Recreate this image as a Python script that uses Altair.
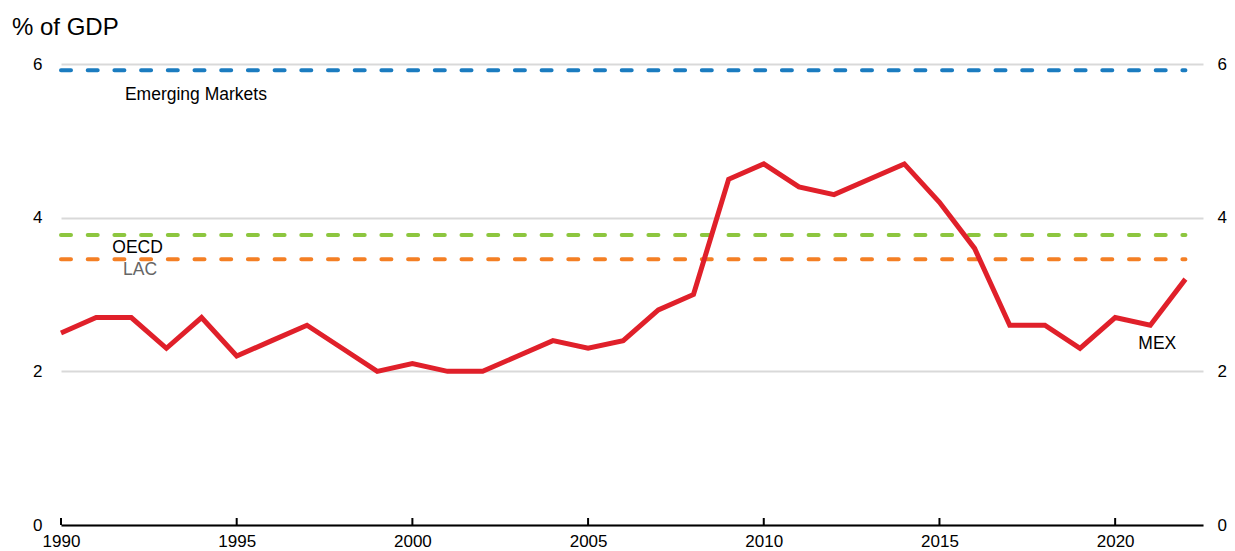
import altair as alt
import pandas as pd

years = list(range(1990, 2023))
mex = [2.5, 2.7, 2.7, 2.3, 2.7, 2.2, 2.4, 2.6, 2.3, 2.0, 2.1, 2.0, 2.0, 2.2, 2.4, 2.3,
       2.4, 2.8, 3.0, 4.5, 4.7, 4.4, 4.3, 4.5, 4.7, 4.2, 3.6, 2.6, 2.6, 2.3, 2.7, 2.6, 3.2]

ref_names = ["Emerging Markets", "OECD", "LAC"]
ref_values = [5.92, 3.775, 3.46]
ref_colors = ["#1b7cc0", "#8dc63f", "#f47f24"]

label_text = ["Emerging Markets", "OECD", "LAC", "MEX"]
label_x = [1993.84, 1992.18, 1992.25, 2021.2]
label_y = [5.595, 3.6, 3.32, 2.35]
label_color = ["#000000", "#000000", "#666666", "#000000"]

tick_years = [1990, 1995, 2000, 2005, 2010, 2015, 2020]

FONT = "Liberation Sans"

xscale = alt.Scale(domain=[1990, 2022.5], nice=False, zero=False)
yscale = alt.Scale(domain=[0, 6], nice=False)

mex_df = pd.DataFrame({"year": years, "value": mex})
ref_rows = []
for n, v, c in zip(ref_names, ref_values, ref_colors):
    ref_rows.append({"name": n, "year": 1990, "value": v, "color": c})
    ref_rows.append({"name": n, "year": 2022, "value": v, "color": c})
ref_df = pd.DataFrame(ref_rows)
lab_df = pd.DataFrame({"text": label_text, "year": label_x, "value": label_y, "color": label_color})
tick_df = pd.DataFrame({"year": tick_years})

xaxis = alt.Axis(values=tick_years, format="d", title=None, grid=False, ticks=False,
                 domain=True, domainColor="#000000", domainWidth=2,
                 labelFontSize=17, labelFont=FONT, labelColor="#000000", labelPadding=8,
                 labelFlush=False)
yaxis_left = alt.Axis(values=[0, 2, 4, 6], format="d", title=None, grid=True,
                      gridColor="#d9d9d9", gridWidth=2,
                      ticks=False, domain=False, labelFontSize=17, labelFont=FONT,
                      labelColor="#000000", labelPadding=19)
yaxis_right = alt.Axis(values=[0, 2, 4, 6], format="d", title=None, grid=False, orient="right",
                       ticks=False, domain=False, labelFontSize=17, labelFont=FONT,
                       labelColor="#000000", labelPadding=14)

grid_layer = alt.Chart(mex_df).mark_line(opacity=0).encode(
    x=alt.X("year:Q", scale=xscale, axis=xaxis),
    y=alt.Y("value:Q", scale=yscale, axis=yaxis_left),
)

ref_layer = alt.Chart(ref_df).mark_line(strokeWidth=4, strokeDash=[10, 16.7], strokeCap="round").encode(
    x=alt.X("year:Q", scale=xscale, axis=xaxis),
    y=alt.Y("value:Q", scale=yscale, axis=yaxis_left),
    detail="name:N",
    color=alt.Color("color:N", scale=None),
)

mex_layer = alt.Chart(mex_df).mark_line(strokeWidth=5, color="#e0202a").encode(
    x=alt.X("year:Q", scale=xscale, axis=xaxis),
    y=alt.Y("value:Q", scale=yscale, axis=yaxis_left),
)

text_layer = alt.Chart(lab_df).mark_text(fontSize=17.5, font=FONT).encode(
    x=alt.X("year:Q", scale=xscale, axis=xaxis),
    y=alt.Y("value:Q", scale=yscale, axis=yaxis_left),
    text="text:N",
    color=alt.Color("color:N", scale=None),
)

tick_layer = alt.Chart(tick_df).mark_rule(color="#000000", strokeWidth=2).encode(
    x=alt.X("year:Q", scale=xscale, axis=xaxis),
    y=alt.value(461),
    y2=alt.value(454),
)

title_layer = alt.Chart(tick_df.head(1)).mark_text(
    fontSize=24, font=FONT, align="left", baseline="alphabetic", color="#000000"
).encode(x=alt.value(-49), y=alt.value(-29), text=alt.value("% of GDP"))

left = alt.layer(grid_layer, ref_layer, mex_layer, text_layer, tick_layer, title_layer)

right_layer = alt.Chart(mex_df).mark_line(opacity=0).encode(
    x=alt.X("year:Q", scale=xscale, axis=xaxis),
    y=alt.Y("value:Q", scale=yscale, axis=yaxis_right),
)

chart = alt.layer(left, right_layer).resolve_scale(y="independent").properties(
    width=1142, height=461,
    background="#ffffff",
    autosize=alt.AutoSizeParams(type="none"),
    padding={"left": 53, "top": 56, "right": 24, "bottom": 26},
).configure_view(strokeWidth=0, stroke="transparent").configure_axisY(
    domain=False, ticks=False
).configure_axisX(grid=False)

chart.save("out.html", embed_options={"renderer": "svg", "actions": False})
